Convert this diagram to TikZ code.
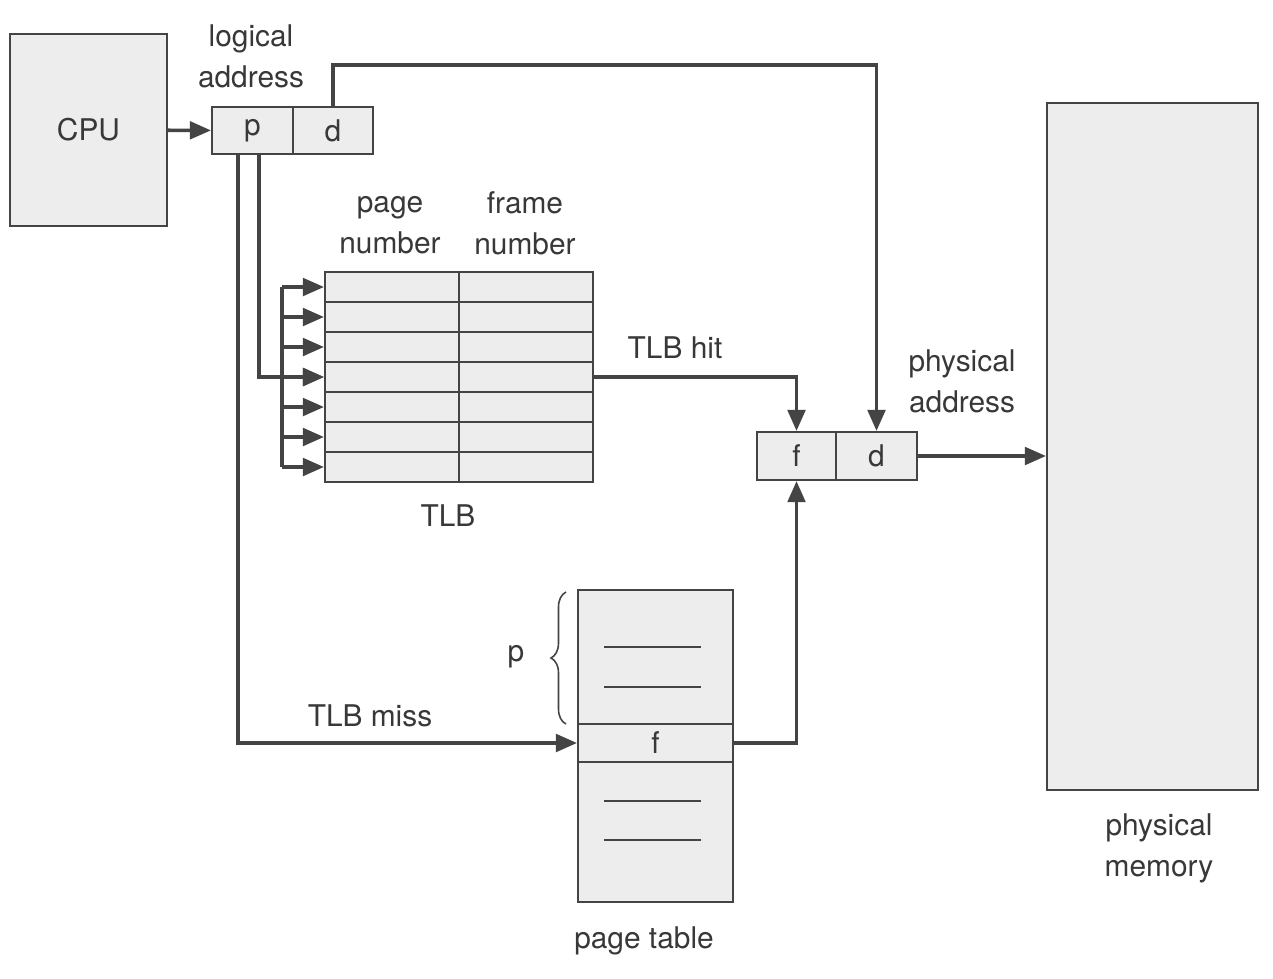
\documentclass[tikz,border=0pt]{standalone}
\usepackage{fontspec}
\setmainfont{TeX Gyre Heros}
\usepackage{tikz}
\usetikzlibrary{arrows.meta,decorations.pathreplacing}
\definecolor{ink}{HTML}{444444}
\definecolor{txt}{HTML}{383838}
\definecolor{cell}{HTML}{EDEDED}
\tikzset{
  box/.style={draw=ink, fill=cell, line width=1.2pt, inner sep=0pt},
  lab/.style={text=txt, font=\fontsize{17}{23.2}\selectfont, align=center, inner sep=0pt},
  wire/.style={draw=ink, line width=2pt},
  arr/.style={wire, -{Triangle[length=12pt, width=10pt]}},
}

\begin{document}
\begin{tikzpicture}[x=0.02cm, y=-0.02cm]
\useasboundingbox[fill=white] (0,0) rectangle (1273,978);

% cpu and logical address
\node[box, lab, minimum width=3.14cm, minimum height=3.84cm] (cpu) at (88.5,130) {CPU};
\node[box, lab, minimum width=1.62cm, minimum height=0.94cm] (lap) at (252.5,130.5) {p};
\node[box, lab, minimum width=1.60cm, minimum height=0.94cm] (lad) at (333,130.5) {d};
\node[lab] (lalab) at (251,56) {logical\\address};

% tlb
\foreach \i in {1,...,7}{
  \node[box, minimum width=2.68cm, minimum height=0.6cm] (tlb-\i-1) at (392,257+30*\i) {};
  \node[box, minimum width=2.68cm, minimum height=0.6cm] (tlb-\i-2) at (526,257+30*\i) {};
}
\node[lab] (pnlab) at (390,225) {page\\number};
\node[lab] (fnlab) at (525,223) {frame\\number};
\node[lab] (tlblab) at (448,516) {TLB};

% physical address
\node[box, lab, minimum width=1.58cm, minimum height=0.96cm] (paf) at (796.5,456) {f};
\node[box, lab, minimum width=1.62cm, minimum height=0.96cm] (pad) at (876.5,456) {d};
\node[lab] (palab) at (962,381) {physical\\address};

% physical memory
\node[box, minimum width=4.22cm, minimum height=13.74cm] (mem) at (1152.5,446.5) {};
\node[lab] (memlab) at (1159,848) {physical\\memory};

% page table
\node[box, minimum width=3.1cm, minimum height=2.68cm] (pttop) at (655.5,657) {};
\node[box, lab, minimum width=3.1cm, minimum height=0.76cm] (ptf) at (655.5,743) {f};
\node[box, minimum width=3.1cm, minimum height=2.8cm] (ptbot) at (655.5,832) {};
\draw[ink, line width=1.2pt] (604,647) -- (701,647) (604,687) -- (701,687)
  (604,801) -- (701,801) (604,840) -- (701,840);
\node[lab] (ptlab) at (644,941) {page table};
\draw[ink, line width=0.9pt, decorate, decoration={brace, amplitude=0.3cm}] (566,724) -- (566,592);
\node[lab] (plab) at (516,657) {p};

% connectors
\draw[arr] (cpu) -- (lap);
\draw[arr] (lad.north) -- ++(0,-41) -| (pad.north);
\coordinate (bus) at (282,287);
\draw[wire] (bus) -- (bus |- tlb-7-1.west);
\foreach \i in {1,...,7}
  \draw[arr] (bus |- tlb-\i-1.west) -- (tlb-\i-1.west);
\draw[arr] ([xshift=0.13cm]lap.south) |- (tlb-4-1.west);
\draw[arr] ([xshift=-0.29cm]lap.south) |- (ptf.west);
\node[lab] (misslab) at (370,716) {TLB miss};
\draw[arr] (tlb-4-2.east) -| (paf.north);
\node[lab] (hitlab) at (675,348) {TLB hit};
\draw[arr] (ptf.east) -| (paf.south);
\draw[arr] (pad) -- (mem.west |- pad);
\end{tikzpicture}
\end{document}
